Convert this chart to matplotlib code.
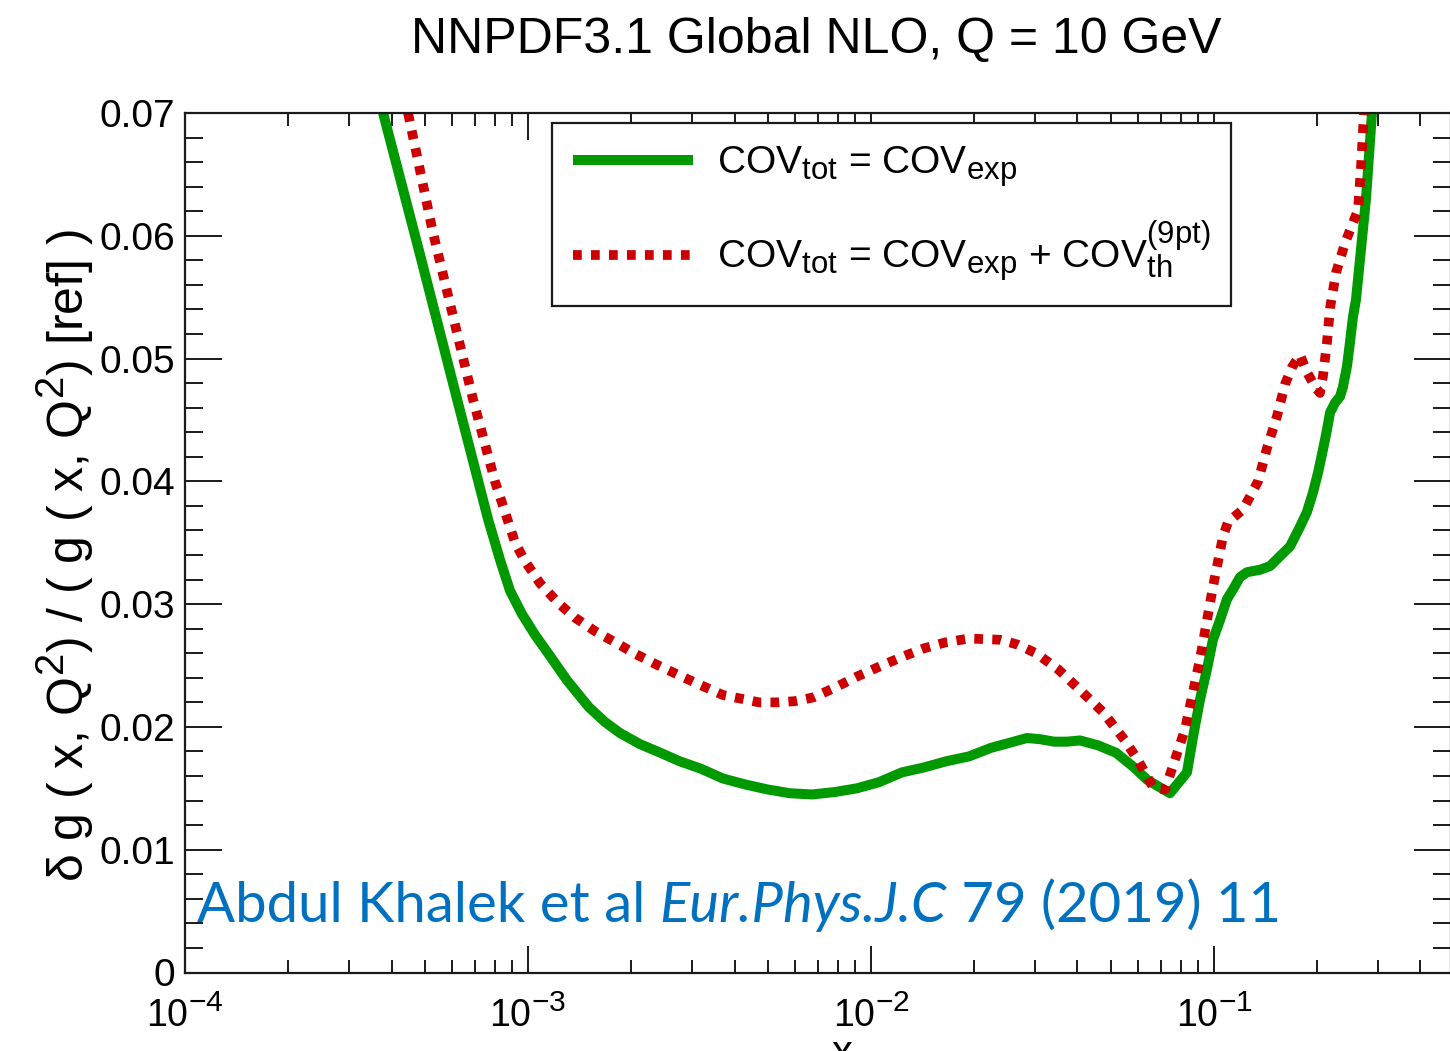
import matplotlib
matplotlib.use('Agg')
import matplotlib.pyplot as plt
import matplotlib.ticker as mticker
import matplotlib._mathtext as mathtext_impl
import numpy as np

# %% Relative gluon uncertainty at Q = 10 GeV for the two covariance choices
x_exp = [3.78e-4, 4.84e-4, 6.21e-4, 7.65e-4, 8.29e-4, 8.86e-4, 9.60e-4, 1.048e-3,
         1.151e-3, 1.299e-3, 1.506e-3, 1.677e-3, 1.855e-3, 2.12e-3, 2.43e-3, 2.77e-3,
         3.19e-3, 3.70e-3, 4.32e-3, 5.01e-3, 5.80e-3, 6.73e-3, 7.85e-3, 9.10e-3,
         1.055e-2, 1.231e-2, 1.427e-2, 1.655e-2, 1.931e-2, 2.24e-2, 2.53e-2, 2.85e-2,
         3.11e-2, 3.42e-2, 3.73e-2, 4.07e-2, 4.59e-2, 5.18e-2, 5.85e-2, 6.38e-2,
         7.44e-2, 8.34e-2, 8.69e-2, 9.10e-2, 9.54e-2, 9.93e-2, 0.1041, 0.1091,
         0.1136, 0.1191, 0.1248, 0.1362, 0.1457, 0.1557, 0.1666, 0.1781, 0.1866,
         0.1944, 0.2010, 0.2079, 0.2135, 0.2179, 0.2254, 0.2330, 0.2377, 0.2443,
         0.2491, 0.2542, 0.2594, 0.2774, 0.2888]
dg_exp = [0.0700, 0.0585, 0.0467, 0.0369, 0.0336, 0.0311, 0.0292, 0.0275,
          0.0259, 0.0238, 0.0216, 0.0204, 0.0195, 0.0186, 0.0179, 0.0172,
          0.0166, 0.0158, 0.0153, 0.0149, 0.0146, 0.0145, 0.0147, 0.0150,
          0.0155, 0.0163, 0.0167, 0.0172, 0.0176, 0.0183, 0.0187, 0.0191,
          0.0190, 0.0188, 0.0188, 0.0189, 0.0185, 0.0179, 0.0167, 0.0157,
          0.0146, 0.0163, 0.0192, 0.0222, 0.0247, 0.0271, 0.0287, 0.0304,
          0.0312, 0.0322, 0.0326, 0.0328, 0.0331, 0.0339, 0.0347, 0.0363, 0.0375,
          0.0391, 0.0407, 0.0426, 0.0442, 0.0456, 0.0464, 0.0469, 0.0477, 0.0494,
          0.0513, 0.0534, 0.0548, 0.0630, 0.0700]

x_th = [4.47e-4, 5.28e-4, 6.04e-4, 6.91e-4, 8.01e-4, 9.17e-4, 9.80e-4, 1.084e-3,
        1.224e-3, 1.371e-3, 1.568e-3, 1.793e-3, 2.04e-3, 2.36e-3, 2.76e-3, 3.19e-3,
        3.70e-3, 4.18e-3, 4.72e-3, 5.32e-3, 6.00e-3, 6.78e-3, 7.85e-3, 9.10e-3,
        1.055e-2, 1.231e-2, 1.427e-2, 1.655e-2, 1.931e-2, 2.377e-2, 2.68e-2, 3.03e-2,
        3.51e-2, 4.07e-2, 4.75e-2, 5.50e-2, 6.00e-2, 6.64e-2, 7.20e-2, 8.23e-2,
        9.10e-2, 9.93e-2, 0.1062, 0.1099, 0.1215, 0.1344, 0.1427, 0.1526, 0.1611,
        0.1688, 0.1781, 0.1866, 0.1970, 0.2037, 0.2079, 0.2135, 0.2179, 0.2269,
        0.2409, 0.2629, 0.2683, 0.2737]
dg_th = [0.0700, 0.0603, 0.0535, 0.0467, 0.0400, 0.0350, 0.0335, 0.0317,
         0.0301, 0.0289, 0.0278, 0.0269, 0.0260, 0.0251, 0.0242, 0.0234,
         0.0226, 0.0223, 0.0220, 0.0220, 0.0221, 0.0224, 0.0232, 0.0241,
         0.0249, 0.0257, 0.0264, 0.0269, 0.0272, 0.0271, 0.0267, 0.0260,
         0.0247, 0.0230, 0.0212, 0.0189, 0.0173, 0.0151, 0.0149, 0.0198,
         0.0255, 0.0314, 0.0355, 0.0367, 0.0377, 0.0400, 0.0427, 0.0453, 0.0479,
         0.0493, 0.0503, 0.0489, 0.0477, 0.0472, 0.0486, 0.0513, 0.0541, 0.0570,
         0.0594, 0.0621, 0.0656, 0.0700]

labels = [r'COV$_{\mathrm{tot}}$ = COV$_{\mathrm{exp}}$',
          r'COV$_{\mathrm{tot}}$ = COV$_{\mathrm{exp}}$ + COV$_{\mathrm{th}}^{(9\mathrm{pt})}$']

plt.rcParams['font.family'] = ['Liberation Sans', 'DejaVu Sans']
plt.rcParams['mathtext.fontset'] = 'custom'
plt.rcParams['mathtext.rm'] = 'Liberation Sans'
plt.rcParams['mathtext.it'] = 'Liberation Sans:italic'
plt.rcParams['mathtext.bf'] = 'Liberation Sans:bold'
# larger sub/superscripts, closer to the ROOT look
mathtext_impl.SHRINK_FACTOR = 0.8

W, H = 1450, 1051
fig = plt.figure(figsize=(W / 100, H / 100), dpi=100)
ax = fig.add_axes([185 / W, 1 - 972.5 / H, 1266 / W, 859.5 / H])

ax.plot(x_exp, dg_exp, color='#009900', lw=7.2, solid_capstyle='butt',
        solid_joinstyle='round', label=labels[0])
ax.plot(x_th, dg_th, color='#cc0000', lw=7.0, linestyle=(0, (0.9, 0.95)),
        dash_capstyle='butt', label=labels[1])

ax.set_xscale('log')
ax.set_xlim(1e-4, 0.4909)
ax.set_ylim(0, 0.07)

ax.xaxis.set_major_locator(mticker.LogLocator(base=10, numticks=10))
ax.xaxis.set_minor_locator(mticker.LogLocator(base=10, subs=np.arange(2, 10), numticks=20))
ax.xaxis.set_minor_formatter(mticker.NullFormatter())
ax.xaxis.set_major_formatter(
    mticker.FuncFormatter(lambda v, p: r'10$^{%d}$' % round(np.log10(v))))
ax.yaxis.set_major_locator(mticker.MultipleLocator(0.01))
ax.yaxis.set_minor_locator(mticker.MultipleLocator(0.002))
ax.yaxis.set_major_formatter(
    mticker.FuncFormatter(lambda v, p: '0' if abs(v) < 1e-9 else '%.2f' % v))

for side in ['left', 'right', 'top', 'bottom']:
    ax.spines[side].set_linewidth(1.6)
    ax.spines[side].set_color('#1a1a1a')

ax.tick_params(axis='both', which='both', direction='in', top=True, right=True,
               color='#1a1a1a', width=1.4)
ax.tick_params(axis='x', which='major', length=19.5, pad=16, labelsize=27)
ax.tick_params(axis='x', which='minor', length=9.5)
ax.tick_params(axis='y', which='major', length=26.5, pad=7, labelsize=28)
ax.tick_params(axis='y', which='minor', length=13)

leg = ax.legend(loc='upper left', bbox_to_anchor=(0.2899, 0.9884), borderaxespad=0,
                fontsize=28, handlelength=3.08, handletextpad=0.6, borderpad=0.55,
                labelspacing=0.78, fancybox=False, framealpha=1, edgecolor='#1a1a1a')
leg.get_frame().set_linewidth(1.6)

fig.text(816 / W, 1 - 40 / H, 'NNPDF3.1 Global NLO, Q = 10 GeV', ha='center',
         va='center', fontsize=36)
fig.text(65 / W, 1 - 556 / H, r'δ g ( x, Q$^2$) / ( g ( x, Q$^2$) [ref] )',
         rotation=90, ha='center', va='center', fontsize=36)
fig.text(842 / W, 1 - 1034 / H, 'x', ha='center', va='top', fontsize=30)

# citation, upright and italic pieces chained along the baseline
cite = dict(family='Lato', fontsize=40.5, color='#0070c0')
c1 = fig.text(197 / W, 1 - 922 / H, 'Abdul Khalek et al ', va='baseline', **cite)
c2 = ax.annotate('Eur.Phys.J.C', xy=(1, 0), xycoords=c1, va='bottom', ha='left',
                 style='italic', annotation_clip=False, **cite)
ax.annotate(' 79 (2019) 11', xy=(1, 0), xycoords=c2, va='bottom', ha='left',
            annotation_clip=False, **cite)

fig.savefig('out.png', dpi=100)
